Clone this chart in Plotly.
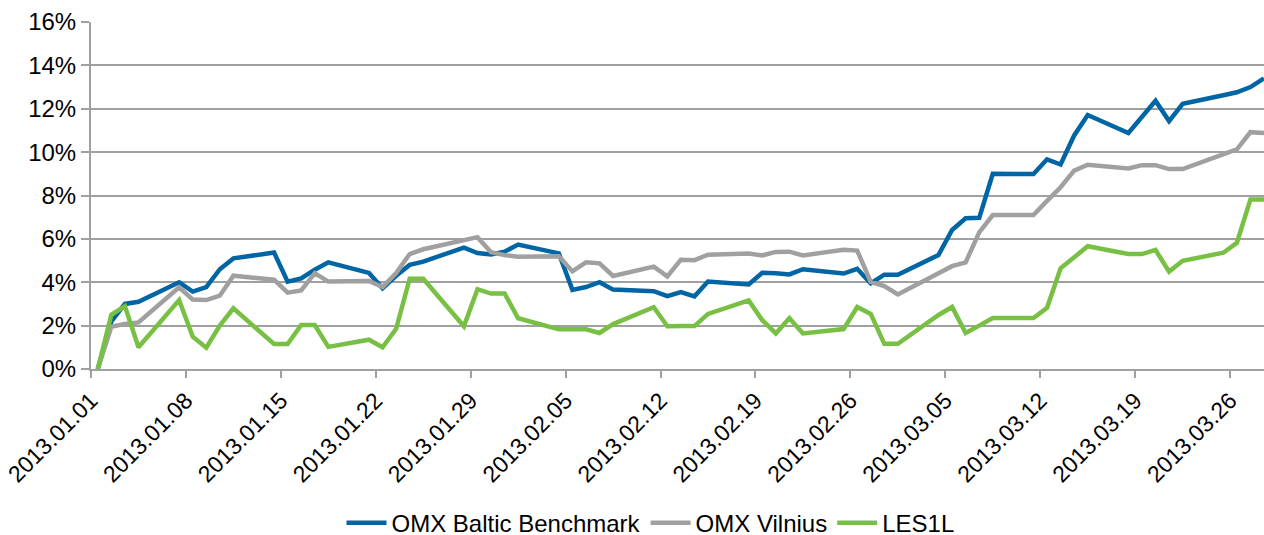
import pandas as pd
import plotly.graph_objects as go

# trading days, 2013
dates = ['2013-01-01', '2013-01-02', '2013-01-03', '2013-01-04', '2013-01-07', '2013-01-08',
         '2013-01-09', '2013-01-10', '2013-01-11', '2013-01-14', '2013-01-15', '2013-01-16',
         '2013-01-17', '2013-01-18', '2013-01-21', '2013-01-22', '2013-01-23', '2013-01-24',
         '2013-01-25', '2013-01-28', '2013-01-29', '2013-01-30', '2013-01-31', '2013-02-01',
         '2013-02-04', '2013-02-05', '2013-02-06', '2013-02-07', '2013-02-08', '2013-02-11',
         '2013-02-12', '2013-02-13', '2013-02-14', '2013-02-15', '2013-02-18', '2013-02-19',
         '2013-02-20', '2013-02-21', '2013-02-22', '2013-02-25', '2013-02-26', '2013-02-27',
         '2013-02-28', '2013-03-01', '2013-03-04', '2013-03-05', '2013-03-06', '2013-03-07',
         '2013-03-08', '2013-03-11', '2013-03-12', '2013-03-13', '2013-03-14', '2013-03-15',
         '2013-03-18', '2013-03-19', '2013-03-20', '2013-03-21', '2013-03-22', '2013-03-25',
         '2013-03-26', '2013-03-27', '2013-03-28']

omx_baltic = [0, 2.2, 3.0, 3.1, 4.0, 3.57, 3.78, 4.6, 5.1, 5.37, 4.03, 4.18,
              4.58, 4.92, 4.43, 3.72, 4.3, 4.8, 4.95, 5.6, 5.35, 5.28, 5.41, 5.74,
              5.33, 3.65, 3.78, 4.0, 3.66, 3.59, 3.36, 3.55, 3.35, 4.03, 3.9, 4.44,
              4.41, 4.36, 4.6, 4.4, 4.62, 3.95, 4.35, 4.35, 5.26, 6.41, 6.95, 6.97,
              9.0, 8.99, 9.67, 9.43, 10.77, 11.71, 10.88, 11.6, 12.37, 11.43, 12.23, 12.62,
              12.76, 13.0, 13.4]

omx_vilnius = [0, 1.95, 2.08, 2.15, 3.77, 3.2, 3.18, 3.38, 4.3, 4.12, 3.52, 3.62,
               4.42, 4.03, 4.06, 3.78, 4.42, 5.3, 5.52, 5.92, 6.08, 5.38, 5.25, 5.18,
               5.2, 4.5, 4.92, 4.87, 4.29, 4.72, 4.27, 5.04, 5.02, 5.27, 5.32, 5.24,
               5.4, 5.41, 5.24, 5.5, 5.46, 4.02, 3.82, 3.44, 4.44, 4.74, 4.92, 6.3,
               7.1, 7.1, 7.75, 8.38, 9.15, 9.42, 9.25, 9.4, 9.4, 9.22, 9.22, 9.9,
               10.13, 10.92, 10.88]

les1l = [0, 2.5, 2.9, 1.0, 3.18, 1.49, 0.98, 2.0, 2.8, 1.15, 1.15, 2.03,
         2.03, 1.02, 1.35, 1.0, 1.85, 4.16, 4.16, 1.97, 3.68, 3.48, 3.48, 2.34,
         1.83, 1.83, 1.83, 1.66, 2.07, 2.85, 1.97, 1.98, 1.98, 2.54, 3.16, 2.25,
         1.64, 2.34, 1.64, 1.84, 2.86, 2.54, 1.16, 1.16, 2.49, 2.86, 1.66, 2.0,
         2.35, 2.35, 2.82, 4.64, 5.15, 5.66, 5.3, 5.3, 5.49, 4.49, 4.99, 5.36,
         5.82, 7.82, 7.82]

tick_dates = pd.date_range('2013-01-01', '2013-03-26', freq='7D')
tick_text = [d.strftime('%Y.%m.%d') for d in tick_dates]

x = pd.to_datetime(dates)
font = 'Arial, Liberation Sans, sans-serif'

fig = go.Figure()
fig.add_trace(go.Scatter(x=x, y=omx_baltic, name='OMX Baltic Benchmark', mode='lines',
                         line=dict(color='#0065A4', width=4.5)))
fig.add_trace(go.Scatter(x=x, y=omx_vilnius, name='OMX Vilnius', mode='lines',
                         line=dict(color='#A0A0A0', width=4.5)))
fig.add_trace(go.Scatter(x=x, y=les1l, name='LES1L', mode='lines',
                         line=dict(color='#77C043', width=4.5)))

# ticks sit between days, like the Excel date axis
fig.update_xaxes(type='date', automargin=False,
                 range=[pd.Timestamp('2012-12-31 12:00'), pd.Timestamp('2013-03-28 00:00')],
                 tickvals=[d - pd.Timedelta(hours=12) for d in tick_dates],
                 ticktext=tick_text, tickangle=-45,
                 tickfont=dict(family=font, size=23, color='#000000'),
                 showgrid=False, showline=True, linecolor='#A0A0A0', linewidth=2,
                 ticks='outside', ticklen=7, tickcolor='#A0A0A0', tickwidth=2)
fig.update_yaxes(range=[0, 16], dtick=2, ticksuffix='%', automargin=False,
                 tickfont=dict(family=font, size=24, color='#000000'),
                 showgrid=True, gridcolor='#A0A0A0', gridwidth=1.5, zeroline=False,
                 showline=True, linecolor='#A0A0A0', linewidth=2,
                 ticks='outside', ticklen=8, tickcolor='#A0A0A0', tickwidth=2)
# figure is taller than the window so the legend never pushes the margins
fig.update_layout(width=1264, height=560, autosize=False,
                  margin=dict(l=91, r=0, t=22, b=191),
                  plot_bgcolor='white', paper_bgcolor='white',
                  font=dict(family=font, color='#000000'),
                  showlegend=True,
                  legend=dict(orientation='h', x=0.477, xanchor='center',
                              y=-0.444, yanchor='middle',
                              font=dict(family=font, size=24, color='#000000'),
                              itemwidth=40))
# drop the default 8px page margin
fig.write_html('out.html', config={'displayModeBar': False},
               post_script="document.body.style.margin='0';document.body.style.overflow='hidden';")
